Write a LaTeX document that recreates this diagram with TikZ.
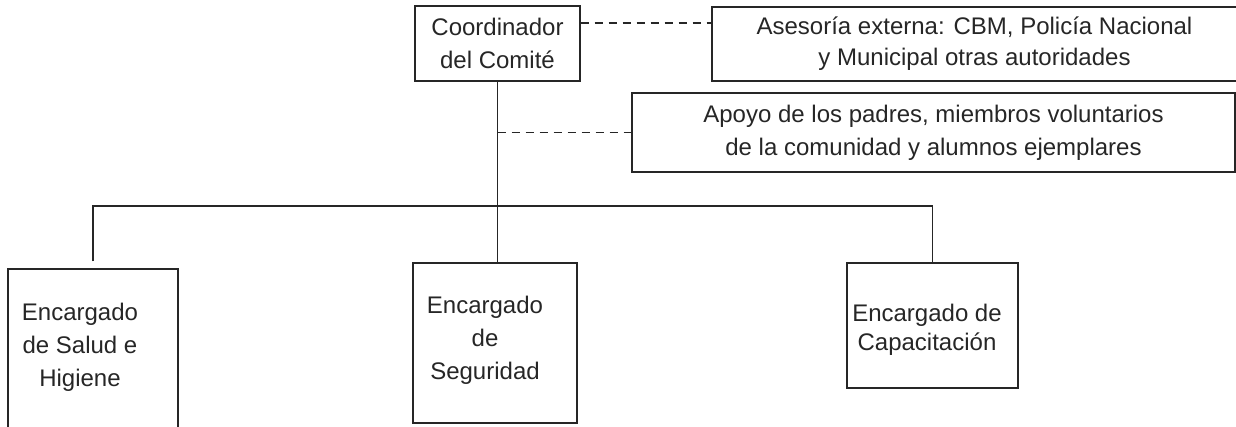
\documentclass[tikz,border=0pt]{standalone}
\usepackage{fontspec}
\setmainfont{Liberation Sans}
\usetikzlibrary{positioning}
\tikzset{box/.style={rectangle,draw=black!85,line width=1.3pt,align=center,inner sep=0pt,font=\fontsize{24}{33}\selectfont,text=black!85},
  txt/.style={align=center,inner sep=0pt,font=\fontsize{24}{33}\selectfont,text=black!85},
  link/.style={draw=black!85,line width=1.3pt},
  dashline/.style={link,dash pattern=on 8pt off 6pt}}

\begin{document}
\begin{tikzpicture}[x=1pt,y=-1pt]
\useasboundingbox (0,0) rectangle (1236,427);
\node[box, minimum width=165, minimum height=75] (coord) at (497.5,43.5) {Coordinador\\del Comité};
\node[box, minimum width=525, minimum height=74, font=\fontsize{24}{31}\selectfont] (ases) at (974.5,44) {Asesoría externa: CBM, Policía Nacional\\y Municipal otras autoridades};
\node[box, minimum width=603, minimum height=79] (apoyo) at (933.5,132.5) {Apoyo de los padres, miembros voluntarios\\de la comunidad y alumnos ejemplares};
\node[box, minimum width=170, minimum height=182] (salud) at (93,360) {};
\node[box, minimum width=164, minimum height=160] (segur) at (495,343) {};
\node[box, minimum width=171, minimum height=125] (capac) at (932.5,325.5) {};
\node[txt] (salud-txt) at (80,347) {Encargado\\de Salud e\\Higiene};
\node[txt] (segur-txt) at (485,340) {Encargado\\de\\Seguridad};
\node[txt, font=\fontsize{24}{29}\selectfont] (capac-txt) at (927,330) {Encargado de\\Capacitación};
\coordinate (bar) at (497,206);
\draw[dashline] ([yshift=20.5pt]coord.east) -- ([yshift=20.5pt]coord.east -| ases.west);
\draw[dashline] (coord.south |- apoyo.west) -- (apoyo.west);
\draw[link] (coord.south) -- (coord.south |- segur.north);
\draw[link] ([yshift=7pt]salud.north) -- (salud.north |- bar) -| (capac.north);
\end{tikzpicture}
\end{document}
